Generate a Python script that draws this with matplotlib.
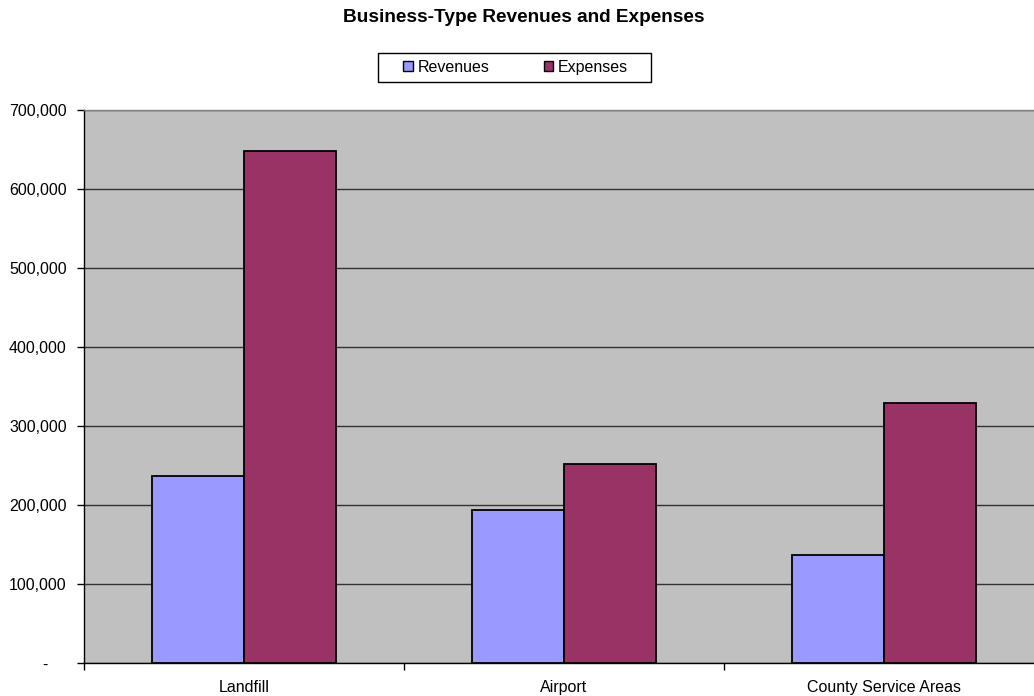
import matplotlib.pyplot as plt
from matplotlib.ticker import FixedLocator
from matplotlib.patches import Rectangle

plt.rcParams['font.family'] = ['Liberation Sans', 'DejaVu Sans']

categories = ['Landfill', 'Airport', 'County Service Areas']
revenues = [237000, 194000, 137000]
expenses = [648500, 251500, 329500]
yticks = [0, 100000, 200000, 300000, 400000, 500000, 600000, 700000]
ytick_labels = ['-    ', '100,000', '200,000', '300,000', '400,000', '500,000', '600,000', '700,000']

fig = plt.figure(figsize=(10.34, 6.96), dpi=100)
W, H = 1034.0, 696.0
# plot area runs past the right edge in the original (cropped)
ax = fig.add_axes([84 / W, 1 - 663 / H, 960 / W, 553 / H])
ax.set_facecolor('#C0C0C0')

x = list(range(len(categories)))
w = 0.2875
ax.bar([i - w for i in x], revenues, w, align='edge', color='#9999FF',
       edgecolor='black', linewidth=1.3, label='Revenues', zorder=3)
ax.bar(x, expenses, w, align='edge', color='#993366',
       edgecolor='black', linewidth=1.3, label='Expenses', zorder=3)

ax.set_xlim(-0.5, 2.5)
ax.set_ylim(0, 700000)

ax.set_yticks(yticks)
ax.set_yticklabels(ytick_labels)
ax.yaxis.grid(True, color='#333333', linewidth=1.0, zorder=1)
ax.set_axisbelow(True)

ax.xaxis.set_major_locator(FixedLocator([-0.5, 0.5, 1.5, 2.5]))
ax.xaxis.set_major_formatter(plt.NullFormatter())
ax.xaxis.set_minor_locator(FixedLocator(x))
ax.set_xticklabels(categories, minor=True)
ax.tick_params(axis='x', which='minor', length=0, pad=12, labelsize=11.5)
ax.tick_params(axis='x', which='major', length=5, direction='out', width=1)
ax.tick_params(axis='y', length=5, direction='out', width=1, pad=7.5, labelsize=11.5)

for s in ['left', 'bottom']:
    ax.spines[s].set_color('black')
    ax.spines[s].set_linewidth(1.0)
ax.spines['top'].set_color('#808080')
ax.spines['top'].set_linewidth(1.0)
ax.spines['right'].set_visible(False)

fig.text(524 / W, 1 - 18 / H, 'Business-Type Revenues and Expenses',
         ha='center', va='center', fontsize=13.7, fontweight='bold')

# legend frame drawn separately (wider than the entries)
fig.patches.append(Rectangle((377.5 / W, 1 - 81.5 / H), 273.5 / W, 28.5 / H,
                             transform=fig.transFigure, facecolor='white',
                             edgecolor='black', linewidth=1.0, zorder=1))
leg = fig.legend(loc='center', bbox_to_anchor=(515.5 / W, 1 - 67.5 / H), ncol=2,
                 fontsize=11.5, frameon=False,
                 handlelength=0.6, handleheight=0.6, handletextpad=0.3,
                 columnspacing=3.4, borderpad=0.0)
for h in leg.legend_handles:
    h.set_linewidth(1.0)

fig.savefig('out.png', dpi=100)
